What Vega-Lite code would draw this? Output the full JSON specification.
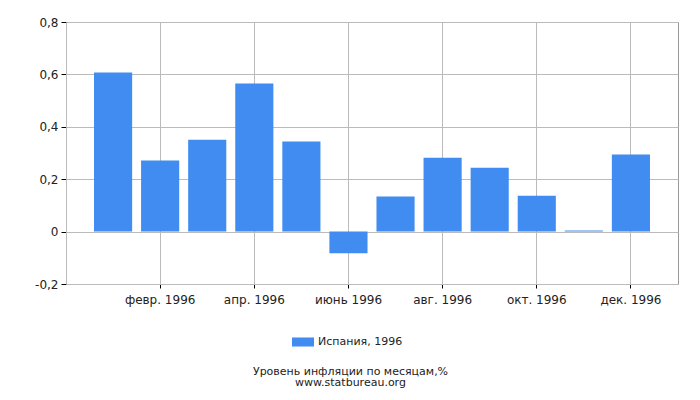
{
  "$schema": "https://vega.github.io/schema/vega-lite/v6.json",
  "autosize": {"type": "none"},
  "width": 612,
  "height": 262,
  "padding": {"left": 66, "top": 22, "right": 22, "bottom": 116},
  "background": "white",
  "data": {"values": [
    {"month": "янв. 1996", "value": 0.607, "series": "Испания, 1996"},
    {"month": "февр. 1996", "value": 0.271, "series": "Испания, 1996"},
    {"month": "март 1996", "value": 0.351, "series": "Испания, 1996"},
    {"month": "апр. 1996", "value": 0.565, "series": "Испания, 1996"},
    {"month": "май 1996", "value": 0.344, "series": "Испания, 1996"},
    {"month": "июнь 1996", "value": -0.083, "series": "Испания, 1996"},
    {"month": "июль 1996", "value": 0.134, "series": "Испания, 1996"},
    {"month": "авг. 1996", "value": 0.282, "series": "Испания, 1996"},
    {"month": "сент. 1996", "value": 0.244, "series": "Испания, 1996"},
    {"month": "окт. 1996", "value": 0.137, "series": "Испания, 1996"},
    {"month": "нояб. 1996", "value": 0.004, "series": "Испания, 1996"},
    {"month": "дек. 1996", "value": 0.294, "series": "Испания, 1996"}
  ]},
  "mark": {"type": "bar", "color": "#418CF0"},
  "encoding": {
    "x": {
      "field": "month",
      "type": "ordinal",
      "sort": null,
      "scale": {"paddingInner": 0.19, "paddingOuter": 0.595},
      "axis": {
        "title": ["Уровень инфляции по месяцам,%", "www.statbureau.org"],
        "titleX": 284,
        "titleY": 81,
        "titleAlign": "center",
        "titleBaseline": "top",
        "titleFontSize": 11,
        "titleFontWeight": "normal",
        "titleFont": "DejaVu Sans",
        "titleColor": "#222222",
        "titleLineHeight": 11,
        "labelAngle": 0,
        "values": ["февр. 1996", "апр. 1996", "июнь 1996", "авг. 1996", "окт. 1996", "дек. 1996"],
        "grid": true,
        "gridColor": "#bbbbbb",
        "domainColor": "#bbbbbb",
        "tickColor": "#000000",
        "tickSize": 4,
        "labelFontSize": 12,
        "labelFont": "DejaVu Sans",
        "labelColor": "#222222",
        "labelPadding": 6
      }
    },
    "y": {
      "field": "value",
      "type": "quantitative",
      "scale": {"domain": [-0.2, 0.8], "nice": false},
      "axis": {
        "title": null,
        "values": [-0.2, 0, 0.2, 0.4, 0.6, 0.8],
        "labelExpr": "replace(replace(format(datum.value, '.1~f'), '.', ','), '\u2212', '-')",
        "grid": true,
        "gridColor": "#bbbbbb",
        "domainColor": "#bbbbbb",
        "tickColor": "#000000",
        "tickSize": 5,
        "labelFontSize": 12,
        "labelFont": "DejaVu Sans",
        "labelColor": "#222222",
        "labelPadding": 3
      }
    },
    "fill": {
      "field": "series",
      "type": "nominal",
      "scale": {"range": ["#418CF0"]},
      "legend": {
        "title": null,
        "orient": "none",
        "legendX": 226,
        "legendY": 309,
        "symbolType": "M-1,-0.41H1V0.41H-1Z",
        "symbolSize": 484,
        "symbolStrokeWidth": 0,
        "labelFontSize": 11,
        "labelFont": "DejaVu Sans",
        "labelColor": "#222222",
        "labelOffset": 4
      }
    }
  },
  "config": {
    "view": {"stroke": "#999999"}
  }
}
